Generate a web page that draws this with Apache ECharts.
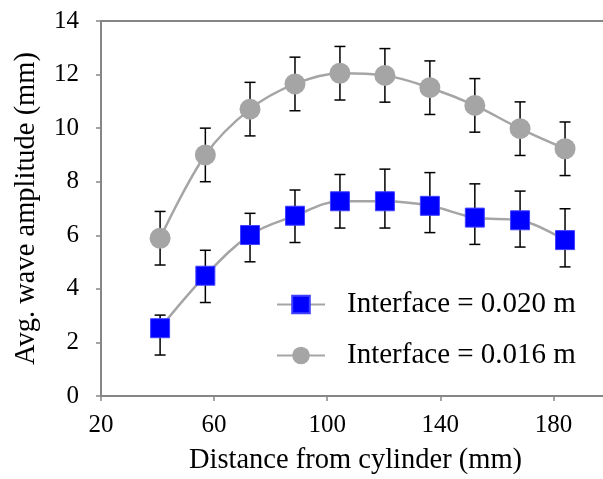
<!DOCTYPE html>
<html>
<head>
<meta charset="utf-8">
<script src="https://cdn.jsdelivr.net/npm/echarts@6/dist/echarts.min.js"></script>
<style>
html,body{margin:0;padding:0;background:#fff;}
#chart{width:603px;height:479px;}
</style>
</head>
<body>
<div id="chart"></div>
<script>
// Distance from cylinder (mm)
var distance = [40.9, 56.9, 72.7, 88.6, 104.5, 120.4, 136.3, 152.2, 168.2, 184.1];
// Average wave amplitude (mm) for each interface height
var amp020 = [2.53, 4.49, 6.01, 6.73, 7.27, 7.27, 7.10, 6.66, 6.56, 5.82];
var amp016 = [5.89, 9.00, 10.71, 11.65, 12.05, 11.97, 11.51, 10.85, 9.98, 9.23];
// Error bar extents (mm)
var err020Up = [0.49, 0.95, 0.81, 0.96, 1.00, 1.20, 1.24, 1.26, 1.09, 1.17];
var err020Down = [1.0, 1.0, 1.0, 1.0, 1.0, 1.0, 1.0, 1.0, 1.0, 1.0];
var err016Up = [1.0, 1.0, 1.0, 1.0, 1.0, 1.0, 1.0, 1.0, 1.0, 1.0];
var err016Down = [1.0, 1.0, 1.0, 1.0, 1.0, 1.0, 1.0, 1.0, 1.0, 1.0];
var seriesNames = ['Interface = 0.020 m', 'Interface = 0.016 m'];
var xTicks = [20, 60, 100, 140, 180];
var yTicks = [0, 2, 4, 6, 8, 10, 12, 14];

var FONT = 'Liberation Serif';
var AXIS_GRAY = '#868686';
var LINE_GRAY = '#A5A5A5';

function pairs(xs, ys) {
  return xs.map(function (x, i) { return [x, ys[i]]; });
}
function errData(xs, ys, up, down) {
  return xs.map(function (x, i) { return [x, ys[i] - down[i], ys[i] + up[i]]; });
}
function renderErr(params, api) {
  var x = api.value(0);
  var lo = api.coord([x, api.value(1)]);
  var hi = api.coord([x, api.value(2)]);
  var half = 5.5;
  var style = { stroke: '#000', lineWidth: 1.5 };
  return {
    type: 'group',
    children: [
      { type: 'line', shape: { x1: lo[0], y1: lo[1], x2: hi[0], y2: hi[1] }, style: style },
      { type: 'line', shape: { x1: lo[0] - half, y1: lo[1], x2: lo[0] + half, y2: lo[1] }, style: style },
      { type: 'line', shape: { x1: hi[0] - half, y1: hi[1], x2: hi[0] + half, y2: hi[1] }, style: style }
    ]
  };
}

var chart = echarts.init(document.getElementById('chart'), null, { renderer: 'canvas' });
chart.setOption({
  animation: false,
  backgroundColor: '#fff',
  grid: {
    left: 101, top: 21, right: -7, bottom: 83,
    outerBoundsMode: 'none', containLabel: false,
    show: true, borderColor: AXIS_GRAY, borderWidth: 2, backgroundColor: 'transparent'
  },
  legend: {
    orient: 'vertical',
    left: 276, top: 290, padding: 0,
    itemWidth: 48, itemHeight: 22, itemGap: 22,
    data: seriesNames,
    textStyle: { fontFamily: FONT, fontSize: 29, color: '#000', padding: [0, 0, 0, 17] }
  },
  xAxis: {
    type: 'value', min: xTicks[0], max: 200, interval: 40,
    name: 'Distance from cylinder (mm)', nameLocation: 'middle', nameGap: 50,
    nameTextStyle: { fontFamily: FONT, fontSize: 28.5, color: '#000' },
    axisLine: { show: true, lineStyle: { color: AXIS_GRAY, width: 2 } },
    axisTick: { show: true, length: 5, lineStyle: { color: AXIS_GRAY, width: 1.5 } },
    splitLine: { show: false },
    axisLabel: {
      margin: 17, fontFamily: FONT, fontSize: 25, color: '#000',
      formatter: function (v) { return xTicks.indexOf(v) >= 0 ? String(v) : ''; }
    }
  },
  yAxis: {
    type: 'value', min: yTicks[0], max: yTicks[yTicks.length - 1], interval: 2,
    name: 'Avg. wave amplitude (mm)', nameLocation: 'middle', nameGap: 60,
    nameTextStyle: { fontFamily: FONT, fontSize: 28.5, color: '#000' },
    axisLine: { show: true, lineStyle: { color: AXIS_GRAY, width: 2 } },
    axisTick: { show: true, length: 5, lineStyle: { color: AXIS_GRAY, width: 1.5 } },
    splitLine: { show: false },
    axisLabel: { margin: 22, fontFamily: FONT, fontSize: 25, color: '#000' }
  },
  series: [
    {
      type: 'custom', name: 'err020', renderItem: renderErr, z: 1,
      data: errData(distance, amp020, err020Up, err020Down), encode: { x: 0, y: [1, 2] }
    },
    {
      type: 'custom', name: 'err016', renderItem: renderErr, z: 1,
      data: errData(distance, amp016, err016Up, err016Down), encode: { x: 0, y: [1, 2] }
    },
    {
      name: seriesNames[0], type: 'line', smooth: 0.35, z: 3,
      data: pairs(distance, amp020),
      symbol: 'rect', symbolSize: 19,
      lineStyle: { color: LINE_GRAY, width: 2.5 },
      itemStyle: { color: '#0000FF', borderColor: '#4040FF', borderWidth: 1 }
    },
    {
      name: seriesNames[1], type: 'line', smooth: 0.35, z: 3,
      data: pairs(distance, amp016),
      symbol: 'circle', symbolSize: 21,
      lineStyle: { color: LINE_GRAY, width: 2.5 },
      itemStyle: { color: LINE_GRAY, borderWidth: 0 }
    }
  ]
});
</script>
</body>
</html>
